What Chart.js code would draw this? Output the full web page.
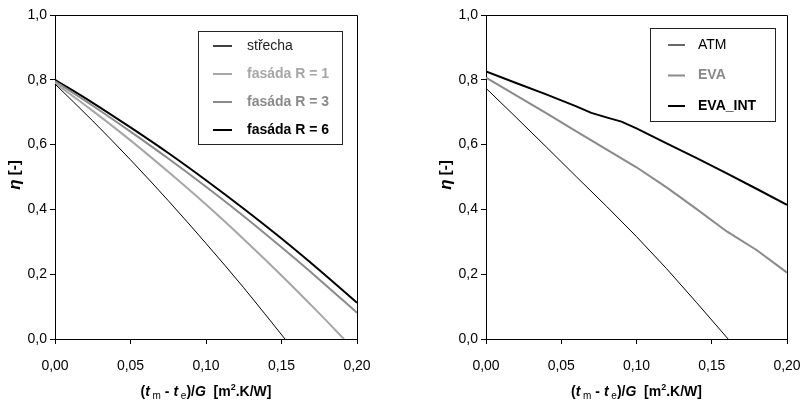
<!DOCTYPE html>
<html>
<head>
<meta charset="utf-8">
<script src="https://cdn.jsdelivr.net/npm/chart.js@4/dist/chart.umd.min.js"></script>
<style>
html, body { margin: 0; padding: 0; background: #fff; }
#wrap { position: relative; width: 801px; height: 401px; }
canvas { position: absolute; top: 0; }
</style>
</head>
<body>
<div id="wrap">
  <canvas id="left" width="400" height="401" style="left:0"></canvas>
  <canvas id="right" width="401" height="401" style="left:400px"></canvas>
</div>
<script>
// efficiency curves, eta vs (tm - te)/G
const strechaX = [0, 0.025, 0.05, 0.075, 0.1, 0.125, 0.1523];
const strechaY = [0.787, 0.673, 0.553, 0.427, 0.295, 0.158, 0];
const fasadaR1X = [0, 0.025, 0.05, 0.075, 0.1, 0.125, 0.15, 0.175, 0.1914];
const fasadaR1Y = [0.79, 0.704, 0.613, 0.516, 0.415, 0.308, 0.196, 0.079, 0];
const fasadaX = [0, 0.025, 0.05, 0.075, 0.1, 0.125, 0.15, 0.175, 0.2];
const fasadaR3Y = [0.795, 0.72, 0.64, 0.557, 0.47, 0.379, 0.283, 0.184, 0.081];
const fasadaR6Y = [0.8, 0.729, 0.653, 0.574, 0.49, 0.402, 0.31, 0.213, 0.112];

const atmX = [0, 0.02, 0.04, 0.06, 0.08, 0.1, 0.12, 0.14, 0.1609];
const atmY = [0.774, 0.684, 0.593, 0.501, 0.41, 0.316, 0.217, 0.112, 0];
const evaX = [0, 0.02, 0.04, 0.06, 0.08, 0.1, 0.12, 0.14, 0.16, 0.18, 0.2];
const evaY = [0.807, 0.752, 0.697, 0.641, 0.585, 0.53, 0.468, 0.401, 0.332, 0.274, 0.205];
const evaIntX = [0, 0.02, 0.04, 0.06, 0.07, 0.08, 0.09, 0.1, 0.12, 0.14, 0.16, 0.18, 0.2];
const evaIntY = [0.826, 0.79, 0.755, 0.718, 0.698, 0.684, 0.671, 0.65, 0.604, 0.558, 0.511, 0.463, 0.414];

const xTicks = [0, 0.05, 0.1, 0.15, 0.2];
const yTicks = [0, 0.2, 0.4, 0.6, 0.8, 1.0];

const FONT = "'Liberation Sans', Arial, sans-serif";

function toPoints(xs, ys) {
  return xs.map((x, i) => ({ x: x, y: ys[i] }));
}

// top + right edge of the plot box
const framePlugin = {
  id: 'frame',
  afterDraw(chart) {
    const a = chart.chartArea, ctx = chart.ctx;
    ctx.save();
    ctx.strokeStyle = '#000';
    ctx.lineWidth = 1;
    ctx.beginPath();
    ctx.moveTo(Math.round(a.left), Math.round(a.top) + 0.5);
    ctx.lineTo(Math.round(a.right) + 0.5, Math.round(a.top) + 0.5);
    ctx.lineTo(Math.round(a.right) + 0.5, Math.round(a.bottom));
    ctx.stroke();
    ctx.restore();
  }
};

// boxed legend, each entry in its own colour / weight
const boxLegendPlugin = {
  id: 'boxLegend',
  afterDraw(chart, args, o) {
    const ctx = chart.ctx;
    ctx.save();
    ctx.fillStyle = '#fff';
    ctx.fillRect(o.x, o.y, o.w, o.h);
    ctx.strokeStyle = '#222';
    ctx.lineWidth = 1;
    ctx.strokeRect(o.x + 0.5, o.y + 0.5, o.w, o.h);
    chart.data.datasets.forEach((ds, i) => {
      const y = o.y + o.row0 + i * o.step;
      ctx.strokeStyle = ds.borderColor;
      ctx.lineWidth = ds.legendWidth;
      ctx.beginPath();
      ctx.moveTo(o.x + o.line0, y);
      ctx.lineTo(o.x + o.line1, y);
      ctx.stroke();
      ctx.fillStyle = ds.textColor;
      ctx.font = (ds.bold ? 'bold ' : '') + '14px ' + FONT;
      ctx.textBaseline = 'middle';
      ctx.textAlign = 'left';
      ctx.fillText(ds.label, o.x + o.text, y);
    });
    ctx.restore();
  }
};

// axis titles with italic symbols, sub- and superscripts
const axisTitlePlugin = {
  id: 'axisTitles',
  afterDraw(chart) {
    const a = chart.chartArea, ctx = chart.ctx;
    const runs = [
      ['(', 'bold 14px', 0],
      ['t', 'italic bold 14px', 0],
      [' m', '10px', 3],
      [' - ', 'bold 14px', 0],
      ['t', 'italic bold 14px', 0],
      [' e', '10px', 3],
      [')/', 'bold 14px', 0],
      ['G', 'italic bold 14px', 0],
      ['  [m', 'bold 14px', 0],
      ['2', 'bold 9px', -6],
      ['.K/W]', 'bold 14px', 0]
    ];
    ctx.save();
    ctx.fillStyle = '#000';
    ctx.textBaseline = 'alphabetic';
    ctx.textAlign = 'left';
    let total = 0;
    runs.forEach(r => { ctx.font = r[1] + ' ' + FONT; total += ctx.measureText(r[0]).width; });
    let x = (a.left + a.right) / 2 - total / 2;
    const base = 396;
    runs.forEach(r => {
      ctx.font = r[1] + ' ' + FONT;
      ctx.fillText(r[0], x, base + r[2]);
      x += ctx.measureText(r[0]).width;
    });

    // y title, rotated
    ctx.translate(a.left - 40, (a.top + a.bottom) / 2 - 2);
    ctx.rotate(-Math.PI / 2);
    ctx.textBaseline = 'middle';
    ctx.font = 'italic bold 17px ' + FONT;
    const eta = '\u03b7';
    const rest = ' [-]';
    const w1 = ctx.measureText(eta).width;
    ctx.font = 'bold 15px ' + FONT;
    const w2 = ctx.measureText(rest).width;
    let tx = -(w1 + w2) / 2;
    ctx.font = 'italic bold 17px ' + FONT;
    ctx.fillText(eta, tx, 0);
    ctx.font = 'bold 15px ' + FONT;
    ctx.fillText(rest, tx + w1, 0);
    ctx.restore();
  }
};

function makeChart(id, series, yWidth, padRight, legend, smooth) {
  const ctx = document.getElementById(id).getContext('2d');
  return new Chart(ctx, {
    type: 'line',
    data: {
      datasets: series.map(s => ({
        label: s.label,
        data: toPoints(s.xs, s.ys),
        borderColor: s.color,
        borderWidth: s.width,
        legendWidth: s.legendWidth,
        textColor: s.textColor,
        bold: s.bold,
        pointRadius: 0,
        fill: false,
        cubicInterpolationMode: smooth ? 'monotone' : 'default',
        tension: 0
      }))
    },
    options: {
      responsive: false,
      animation: false,
      layout: { padding: { top: 15, right: padRight, left: 0, bottom: 0 } },
      scales: {
        x: {
          type: 'linear',
          min: 0,
          max: 0.2,
          afterBuildTicks: s => { s.ticks = xTicks.map(v => ({ value: v })); },
          afterFit: s => { s.height = 62; s.paddingLeft = 0; s.paddingRight = 0; },
          ticks: {
            color: '#000',
            font: { family: FONT, size: 14 },
            padding: 14,
            maxRotation: 0,
            callback: v => v.toFixed(2).replace('.', ',')
          },
          grid: { drawOnChartArea: false, drawTicks: true, tickLength: 5, color: '#000' },
          border: { color: '#000', width: 1 }
        },
        y: {
          min: 0,
          max: 1,
          afterBuildTicks: s => { s.ticks = yTicks.map(v => ({ value: v })); },
          afterFit: s => { s.width = yWidth; s.paddingTop = 0; s.paddingBottom = 0; },
          ticks: {
            color: '#000',
            font: { family: FONT, size: 14 },
            padding: 3,
            callback: v => v.toFixed(1).replace('.', ',')
          },
          grid: { drawOnChartArea: false, drawTicks: true, tickLength: 5, color: '#000' },
          border: { color: '#000', width: 1 }
        }
      },
      plugins: {
        legend: { display: false },
        tooltip: { enabled: false },
        boxLegend: legend
      }
    },
    plugins: [framePlugin, boxLegendPlugin, axisTitlePlugin]
  });
}

makeChart('left', [
  { label: 'st\u0159echa', xs: strechaX, ys: strechaY, color: '#000', width: 1, legendWidth: 1.5, textColor: '#222', bold: false },
  { label: 'fas\u00e1da R = 1', xs: fasadaR1X, ys: fasadaR1Y, color: '#a6a6a6', width: 2, legendWidth: 2, textColor: '#a6a6a6', bold: true },
  { label: 'fas\u00e1da R = 3', xs: fasadaX, ys: fasadaR3Y, color: '#8a8a8a', width: 2, legendWidth: 2, textColor: '#8a8a8a', bold: true },
  { label: 'fas\u00e1da R = 6', xs: fasadaX, ys: fasadaR6Y, color: '#000', width: 2, legendWidth: 2, textColor: '#000', bold: true }
], 55, 43, { x: 198, y: 31, w: 144, h: 113, row0: 15, step: 28, line0: 15, line1: 34, text: 49 }, true);

makeChart('right', [
  { label: 'ATM', xs: atmX, ys: atmY, color: '#000', width: 1, legendWidth: 1.2, textColor: '#000', bold: false },
  { label: 'EVA', xs: evaX, ys: evaY, color: '#8a8a8a', width: 2, legendWidth: 2, textColor: '#8a8a8a', bold: true },
  { label: 'EVA_INT', xs: evaIntX, ys: evaIntY, color: '#000', width: 2, legendWidth: 2, textColor: '#000', bold: true }
], 86, 14, { x: 250, y: 28, w: 125, h: 93, row0: 17, step: 30.5, line0: 18, line1: 35, text: 48 }, false);
</script>
</body>
</html>
